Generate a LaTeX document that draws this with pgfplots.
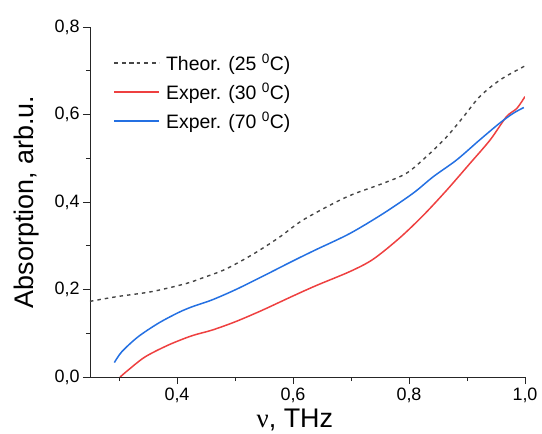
\documentclass[border=0pt]{standalone}
\usepackage{fontspec}
\setmainfont{Liberation Sans}
\newfontfamily\seriffont{Liberation Serif}
\usepackage{pgfplots}
\pgfplotsset{compat=1.18}
\definecolor{myred}{RGB}{238,64,64}
\definecolor{myblue}{RGB}{36,112,226}
\definecolor{mygray}{RGB}{70,70,70}
\begin{document}
\begin{tikzpicture}
\useasboundingbox (-90bp,-57bp) rectangle (452bp,377bp);
\begin{axis}[
  at={(0,0)}, anchor=south west,
  scale only axis, width=435bp, height=350bp,
  xmin=0.25, xmax=1.0, ymin=0, ymax=0.8,
  axis x line*=bottom, axis y line*=left,
  axis line style={-, line width=0.8bp, black!85},
  xtick={0.4,0.6,0.8,1.0}, minor xtick={0.3,0.5,0.7,0.9},
  ytick={0,0.2,0.4,0.6,0.8}, minor ytick={0.1,0.3,0.5,0.7},
  tick align=outside, major tick length=7bp, minor tick length=4bp,
  tick style={line width=0.8bp, black!85},
  tick label style={font=\fontsize{18}{20}\selectfont},
  /pgf/number format/.cd, fixed, fixed zerofill, precision=1, use comma, assume math mode=true,
  /pgfplots/.cd,
  xlabel={{\seriffont ν}, THz},
  ylabel={Absorption, arb.u.},
  label style={font=\fontsize{27}{30}\selectfont},
  xlabel style={at={(axis description cs:0.471,-0.143)}, anchor=base},
  ylabel style={at={(axis description cs:-0.147,0.5)}, anchor=center},
  legend style={at={(axis description cs:0.047,0.935)}, anchor=north west, draw=none, fill=none,
    font=\fontsize{19.5}{23}\selectfont, row sep=6.5bp},
  legend cell align=left,
  legend image code/.code={\draw[#1] plot coordinates {(0bp,0bp) (45bp,0bp)}; \path (49bp,0bp);},
]
\addplot[mygray, line width=1.4bp, dash pattern=on 3.5bp off 4bp, smooth] coordinates {
(0.25,0.173) (0.298,0.184) (0.356,0.195) (0.414,0.213) (0.443,0.226) (0.483,0.246)
(0.529,0.279) (0.575,0.318) (0.615,0.357) (0.670,0.397) (0.704,0.418) (0.756,0.443)
(0.796,0.466) (0.831,0.505) (0.865,0.549) (0.894,0.595) (0.922,0.641) (0.957,0.679)
(0.997,0.709) (1.0,0.71)};
\addlegendentry{Theor. (25 \textsuperscript{0}C)}
\addplot[myred, line width=1.5bp, smooth] coordinates {
(0.302,0.0) (0.316,0.016) (0.345,0.046) (0.385,0.073) (0.425,0.094) (0.460,0.107)
(0.500,0.126) (0.546,0.152) (0.598,0.184) (0.640,0.209) (0.698,0.241) (0.738,0.269)
(0.784,0.318) (0.825,0.370) (0.865,0.427) (0.905,0.488) (0.940,0.542) (0.968,0.595)
(0.986,0.614) (1.0,0.641)};
\addlegendentry{Exper. (30 \textsuperscript{0}C)}
\addplot[myblue, line width=1.5bp, smooth] coordinates {
(0.292,0.033) (0.305,0.058) (0.333,0.092) (0.368,0.123) (0.402,0.147) (0.425,0.160)
(0.460,0.176) (0.500,0.199) (0.546,0.229) (0.598,0.264) (0.638,0.290) (0.698,0.328)
(0.756,0.374) (0.807,0.420) (0.842,0.458) (0.882,0.496) (0.922,0.542) (0.957,0.581)
(0.980,0.603) (0.998,0.616)};
\addlegendentry{Exper. (70 \textsuperscript{0}C)}
\end{axis}
\end{tikzpicture}
\end{document}
